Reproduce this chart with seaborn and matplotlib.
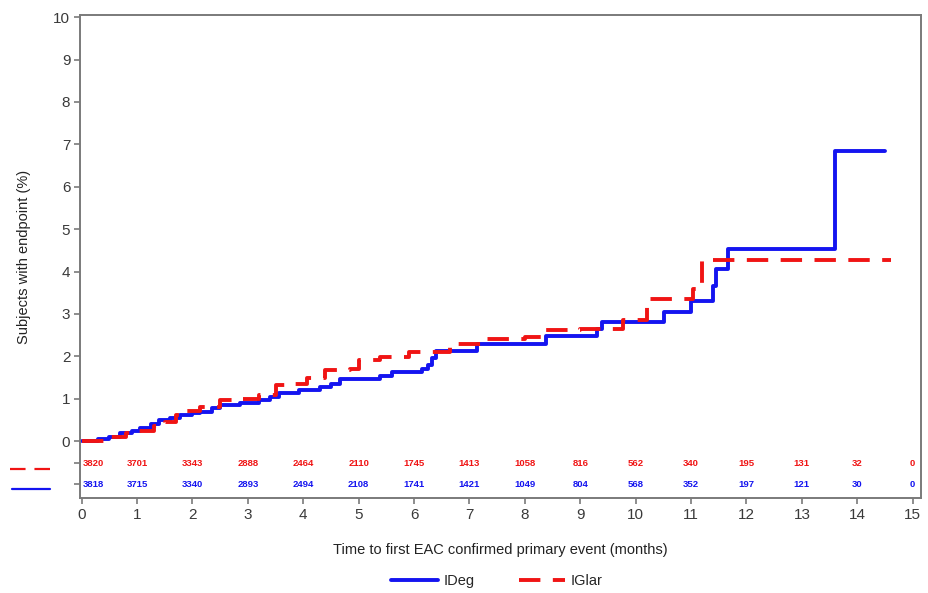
import matplotlib
matplotlib.use("Agg")
import matplotlib.pyplot as plt
from matplotlib.lines import Line2D
import seaborn as sns
import pandas as pd

# Cumulative incidence (%) of the primary endpoint, step curves
ideg_time = [0, 0.3, 0.5, 0.7, 0.9, 1.05, 1.25, 1.4, 1.6, 1.77, 2.0, 2.13, 2.35, 2.5,
             2.85, 3.2, 3.4, 3.57, 3.93, 4.3, 4.5, 4.66, 5.38, 5.6, 6.15, 6.25, 6.32,
             6.4, 7.13, 8.39, 9.3, 9.39, 10.52, 11.0, 11.4, 11.45, 11.66, 13.6, 14.5]
ideg_pct = [0, 0.05, 0.1, 0.19, 0.25, 0.3, 0.4, 0.5, 0.55, 0.61, 0.66, 0.69, 0.78, 0.85,
            0.89, 0.97, 1.05, 1.13, 1.2, 1.28, 1.35, 1.46, 1.54, 1.63, 1.7, 1.8, 1.95,
            2.12, 2.3, 2.48, 2.65, 2.8, 3.05, 3.3, 3.65, 4.05, 4.53, 6.85, 6.85]

iglar_time = [0, 0.5, 0.8, 1.0, 1.3, 1.5, 1.71, 1.9, 2.13, 2.5, 2.9, 3.2, 3.5, 3.8, 4.06,
              4.4, 4.85, 5.0, 5.38, 5.9, 6.64, 7.2, 8.0, 8.39, 9.0, 9.77, 10.2, 11.03,
              11.2, 14.6]
iglar_pct = [0, 0.1, 0.2, 0.25, 0.35, 0.45, 0.61, 0.7, 0.81, 0.97, 1.0, 1.08, 1.32, 1.35,
             1.48, 1.67, 1.7, 1.91, 1.98, 2.1, 2.3, 2.4, 2.45, 2.62, 2.65, 2.85, 3.35,
             3.6, 4.28, 4.28]

# Number of subjects at risk at each month
risk_months = list(range(16))
iglar_at_risk = [3820, 3701, 3343, 2888, 2464, 2110, 1745, 1413, 1058, 816, 562, 340,
                 195, 131, 32, 0]
ideg_at_risk = [3818, 3715, 3340, 2893, 2494, 2108, 1741, 1421, 1049, 804, 568, 352,
                197, 121, 30, 0]

series_names = ["IDeg", "IGlar"]
blue = "#1414f0"
red = "#f01414"

df = pd.concat([
    pd.DataFrame({"time": ideg_time, "pct": ideg_pct, "arm": series_names[0]}),
    pd.DataFrame({"time": iglar_time, "pct": iglar_pct, "arm": series_names[1]}),
])

sns.set_theme(style="white")
plt.rcParams["font.family"] = ["Liberation Sans", "DejaVu Sans"]

fig = plt.figure(figsize=(9.29, 5.93), dpi=100)
ax = fig.add_axes([0.0861, 0.1602, 0.9914 - 0.0861, 0.9747 - 0.1602])

sns.lineplot(data=df, x="time", y="pct", hue="arm", style="arm",
             palette={"IDeg": blue, "IGlar": red},
             dashes={"IDeg": "", "IGlar": (5.5, 3.2)},
             estimator=None, sort=False, drawstyle="steps-post",
             linewidth=2.8, legend=False, ax=ax)

ax.set_xlim(-0.03, 15.15)
ax.set_ylim(-1.34, 10.05)
ax.set_xticks(range(16))
ax.set_yticks(range(11))
ax.set_yticks([-0.52, -1.01], minor=True)

grey = "#7a7a7a"
for s in ax.spines.values():
    s.set_color(grey)
    s.set_linewidth(1.4)
ax.tick_params(axis="both", which="both", direction="out", length=4, width=1.2,
               color=grey, labelsize=11, labelcolor="#3a3a3a", pad=3)
ax.tick_params(axis="x", bottom=True)
ax.tick_params(axis="y", left=True)
ax.tick_params(axis="y", which="minor", left=True, length=4)

ax.set_xlabel("Time to first EAC confirmed primary event (months)", fontsize=10.5,
              color="#222222", labelpad=15)
ax.set_ylabel("Subjects with endpoint (%)", fontsize=10.5, color="#222222", labelpad=16)

# Numbers at risk rows
for m, n_r, n_b in zip(risk_months, iglar_at_risk, ideg_at_risk):
    ha = "left" if m == 0 else "center"
    xpos = 0.02 if m == 0 else m
    ax.text(xpos, -0.52, str(n_r), color=red, fontsize=6.8, fontweight="bold",
            ha=ha, va="center")
    ax.text(xpos, -1.01, str(n_b), color=blue, fontsize=6.8, fontweight="bold",
            ha=ha, va="center")

# Line keys beside the at-risk rows
fig.add_artist(Line2D([10 / 929, 50 / 929], [1 - 469 / 593, 1 - 469 / 593],
                      color=red, lw=1.6, dashes=(7, 4)))
fig.add_artist(Line2D([12 / 929, 50 / 929], [1 - 489 / 593, 1 - 489 / 593],
                      color=blue, lw=1.6))

handles = [Line2D([], [], color=blue, lw=2.8),
           Line2D([], [], color=red, lw=2.8, dashes=(5.5, 3.2))]
fig.legend(handles, series_names, loc="center", bbox_to_anchor=(0.535, 0.02),
           ncol=2, frameon=False, fontsize=10.5, handlelength=3.2,
           columnspacing=3.0, handletextpad=0.4)

fig.savefig("out.png", dpi=100)
